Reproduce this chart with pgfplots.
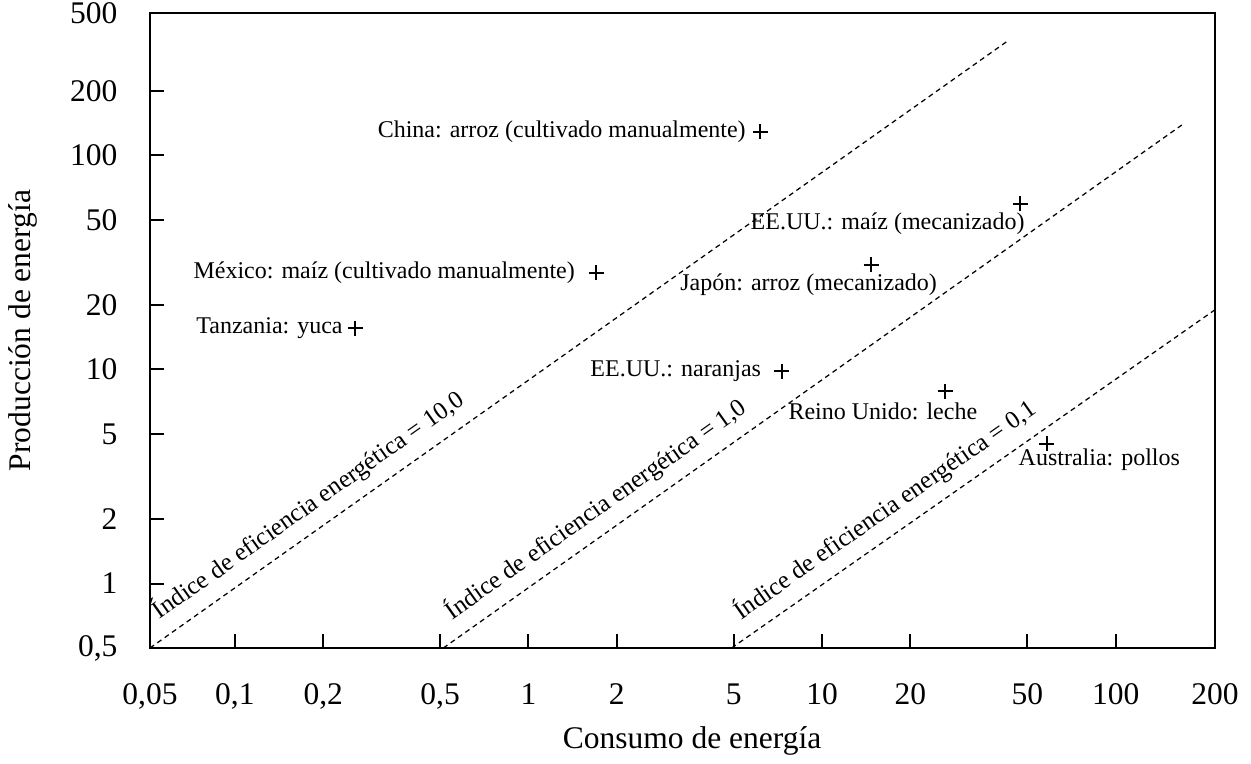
\documentclass[border=0pt]{standalone}
\usepackage{fontspec}
\setmainfont{Liberation Serif}
\usepackage{pgfplots}
\pgfplotsset{compat=1.18}

\begin{document}
\begin{tikzpicture}[
    lab/.style={font=\fontsize{9.6}{11.5}\selectfont, text=black},
    eff/.style={font=\fontsize{10}{12}\selectfont, text=black, sloped, anchor=south west, inner sep=4.5pt},
    indice/.style={black, line width=0.5pt, dash pattern=on 2pt off 1.6pt},
  ]
\begin{loglogaxis}[
    name=ax,
    scale only axis,
    width=426pt, height=254pt,
    % the frame ends a little beyond 0,05 / 200 and short of 500, as in the original
    xmin=0.0514, xmax=218, ymin=0.5, ymax=462,
    xtick={0.0514,0.1,0.2,0.5,1,2,5,10,20,50,100,218},
    xticklabels={{0,05},{0,1},{0,2},{0,5},1,2,5,10,20,50,100,200},
    ytick={0.5,1,2,5,10,20,50,100,200,462},
    yticklabels={{0,5},1,2,5,10,20,50,100,200,500},
    xminorticks=false, yminorticks=false,
    tick align=inside, tick pos=left,
    major tick length=5.6pt,
    axis line style={line width=0.8pt, black},
    tick style={line width=0.8pt, black},
    ticklabel style={font=\fontsize{12.6}{15}\selectfont},
    xticklabel style={inner sep=0pt, anchor=north, yshift=-14pt},
    yticklabel style={inner sep=0pt, anchor=east, xshift=-12.8pt},
    xlabel={Consumo de energía},
    ylabel={Producción de energía},
    label style={font=\fontsize{12.6}{15}\selectfont},
    xlabel style={at={(axis description cs:0.509,-0.146)}, anchor=center},
    ylabel style={at={(axis description cs:-0.119,0.5)}, anchor=center},
  ]

  % lineas de indice de eficiencia (produccion / consumo)
  \addplot[indice] coordinates {(0.0514,0.5) (43,343)}
    node[eff, pos=0.012] {Índice de eficiencia energética = 10,0};
  \addplot[indice] coordinates {(0.513,0.5) (168,138.5)}
    node[eff, pos=0.013] {Índice de eficiencia energética = 1,0};
  \addplot[indice] coordinates {(4.92,0.5) (218,19)}
    node[eff, pos=0.02] {Índice de eficiencia energética = 0,1};

  % sistemas de produccion
  \addplot[only marks, mark=+, mark size=3pt, black, mark options={line width=0.8pt}] coordinates {
    (6.16,129)
    (47.4,59.3)
    (14.7,30.8)
    (1.70,28.3)
    (0.257,15.6)
    (7.30,9.8)
    (26.3,7.9)
    (58.3,4.5)
  };

  \node[lab, anchor=east, xshift=-2.3pt] at (axis cs:6.16,129) {China: arroz (cultivado manualmente)};
  \node[lab, anchor=north east, xshift=5.2pt] at (axis cs:47.4,59.3) {EE.UU.: maíz (mecanizado)};
  \node[lab, anchor=north, xshift=-25pt] at (axis cs:14.7,30.8) {Japón: arroz (mecanizado)};
  \node[lab, anchor=east, xshift=-5pt] at (axis cs:1.70,28.3) {México: maíz (cultivado manualmente)};
  \node[lab, anchor=east, xshift=-1.5pt] at (axis cs:0.257,15.6) {Tanzania: yuca};
  \node[lab, anchor=east, xshift=-4.8pt] at (axis cs:7.30,9.8) {EE.UU.: naranjas};
  \node[lab, anchor=north, xshift=-25pt, yshift=-1pt] at (axis cs:26.3,7.9) {Reino Unido: leche};
  \node[lab, anchor=north, xshift=21pt, yshift=1.5pt] at (axis cs:58.3,4.5) {Australia: pollos};
\end{loglogaxis}
\path ([shift={(-60pt,-44pt)}]ax.south west) rectangle ([shift={(14.4pt,5.2pt)}]ax.north east);
\end{tikzpicture}
\end{document}
